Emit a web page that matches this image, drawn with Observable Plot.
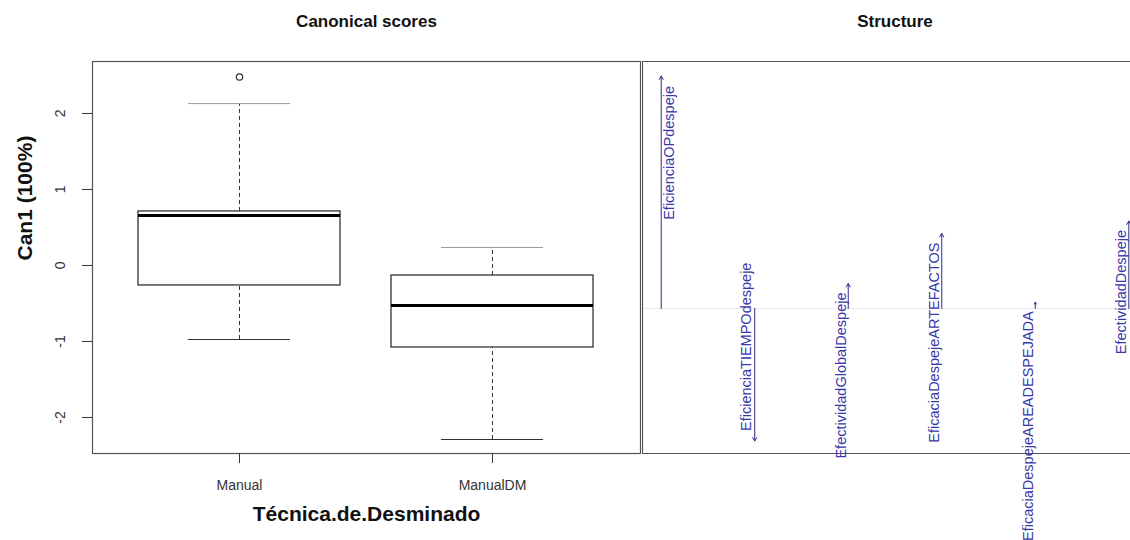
<!DOCTYPE html>
<html>
<head>
<meta charset="utf-8">
<script src="https://cdn.jsdelivr.net/npm/d3@7"></script>
<script src="https://cdn.jsdelivr.net/npm/@observablehq/plot@0.6"></script>
<style>
  html, body { margin: 0; padding: 0; background: #fff; overflow: hidden; }
  #wrap { position: relative; width: 1130px; height: 540px; overflow: hidden; }
  .panel { position: absolute; top: 0; height: 540px; }
  .panel svg { max-width: none !important; display: block; }
  #left { left: 0; width: 641px; }
  #right { left: 641px; width: 540px; }
</style>
</head>
<body>
<div id="wrap">
  <div class="panel" id="left"></div>
  <div class="panel" id="right"></div>
</div>
<script>
// Canonical scores on Can1, summarised per demining technique
const groups = ["Manual", "ManualDM"];
const whiskerLow = [-0.974, -2.29];
const q1 = [-0.263, -1.079];
const median = [0.658, -0.526];
const q3 = [0.711, -0.132];
const whiskerHigh = [2.13, 0.237];
const outlierGroup = ["Manual"];
const outlierValue = [2.48];
const scoreTicks = [-2, -1, 0, 1, 2];

// Structure coefficients of each response variable on Can1
const variables = [
  "EficienciaOPdespeje",
  "EficienciaTIEMPOdespeje",
  "EfectividadGlobalDespeje",
  "EficaciaDespejeARTEFACTOS",
  "EficaciaDespejeAREADESPEJADA",
  "EfectividadDespeje"
];
const structure = [0.93, -0.53, 0.10, 0.30, 0.025, 0.35];

const font = "'Liberation Sans', Arial, Helvetica, sans-serif";
const ink = "#333";
const blueText = "#3838a8";
const blueLine = "#2c2c88";

const boxes = groups.map((g, i) => ({
  group: g, lo: whiskerLow[i], q1: q1[i], median: median[i], q3: q3[i], hi: whiskerHigh[i]
}));
const outliers = outlierGroup.map((g, i) => ({group: g, value: outlierValue[i]}));

const left = Plot.plot({
  width: 641,
  height: 540,
  marginLeft: 92,
  marginRight: 1,
  marginTop: 61,
  marginBottom: 87,
  style: {fontFamily: font, background: "white", color: ink, overflow: "visible"},
  x: {domain: groups, paddingInner: 0.2, paddingOuter: 0.181},
  y: {domain: [-2.474, 2.684]},
  marks: [
    // dashed whiskers
    Plot.ruleX(boxes, {x: "group", y1: "q3", y2: "hi", stroke: ink, strokeDasharray: "4,3"}),
    Plot.ruleX(boxes, {x: "group", y1: "lo", y2: "q1", stroke: ink, strokeDasharray: "4,3"}),
    // whisker caps, half the box width
    Plot.tickY(boxes, {x: "group", y: "hi", insetLeft: 50, insetRight: 50, stroke: "#999"}),
    Plot.tickY(boxes, {x: "group", y: "lo", insetLeft: 50, insetRight: 50, stroke: ink, strokeWidth: 1.2}),
    // interquartile boxes and medians
    Plot.barY(boxes, {x: "group", y1: "q1", y2: "q3", fill: "white", stroke: ink, strokeWidth: 1.3}),
    Plot.tickY(boxes, {x: "group", y: "median", stroke: "#000", strokeWidth: 3}),
    Plot.dot(outliers, {x: "group", y: "value", r: 3.2, stroke: ink, strokeWidth: 1.2, fill: "none"}),
    Plot.frame({stroke: "#555", strokeWidth: 1.2}),
    Plot.axisX({tickSize: 10, tickPadding: 17, fontSize: 14, label: null, stroke: ink}),
    Plot.axisY({
      ticks: scoreTicks, tickFormat: (d) => String(d), tickSize: 10, tickPadding: 22, tickRotate: -90,
      textAnchor: "middle", lineAnchor: "middle", fontSize: 14, label: null, stroke: ink
    }),
    Plot.text(["Can1 (100%)"], {frameAnchor: "left", dx: -67, dy: 3, rotate: -90, lineAnchor: "middle", fontSize: 21, fontWeight: "bold", fill: "#111"}),
    Plot.text(["Técnica.de.Desminado"], {frameAnchor: "bottom", dy: 61, lineAnchor: "middle", fontSize: 21, fontWeight: "bold", fill: "#111"}),
    Plot.text(["Canonical scores"], {frameAnchor: "top", dy: -40, lineAnchor: "middle", fontSize: 17, fontWeight: "bold", fill: "#111"})
  ]
});
document.getElementById("left").append(left);

const loadings = variables.map((v, i) => ({variable: v, index: i + 1, value: structure[i]}));
const labelStyle = {
  x: "index", y: "value", text: "variable", rotate: -90, lineAnchor: "middle",
  fontSize: 14.5, fill: blueText
};
const structX = [0.8, 6.2];
const structY = [-0.58, 0.988];

// the panel runs past the right edge of the page, so only its top, bottom and left sides show
const right = Plot.plot({
  width: 540,
  height: 540,
  marginLeft: 1,
  marginRight: 34,
  marginTop: 61,
  marginBottom: 87,
  style: {fontFamily: font, background: "white", color: ink, overflow: "visible"},
  x: {domain: structX, axis: null},
  y: {domain: structY, axis: null},
  marks: [
    Plot.ruleY([0], {stroke: "#ebebeb"}),
    Plot.ruleY(structY, {stroke: "#555", strokeWidth: 1.2}),
    Plot.ruleX([structX[0]], {stroke: "#555", strokeWidth: 1.2}),
    Plot.arrow(loadings, {x: "index", y1: 0, y2: "value", stroke: blueLine, strokeWidth: 1, headLength: 6}),
    // the leftmost label sits right of its arrow so it stays inside the frame
    Plot.text(loadings, {...labelStyle, filter: (d) => d.index === 1, textAnchor: "end", dx: 8, dy: 10}),
    // positive loadings: label ends just below the arrow head
    Plot.text(loadings, {...labelStyle, filter: (d) => d.index > 1 && d.value >= 0, textAnchor: "end", dx: -7, dy: 9}),
    // negative loadings: label starts just above the arrow head
    Plot.text(loadings, {...labelStyle, filter: (d) => d.value < 0, textAnchor: "start", dx: -8, dy: -10}),
    Plot.text(["Structure"], {frameAnchor: "top", dy: -40, lineAnchor: "middle", fontSize: 17, fontWeight: "bold", fill: "#111"})
  ]
});
document.getElementById("right").append(right);
</script>
</body>
</html>
